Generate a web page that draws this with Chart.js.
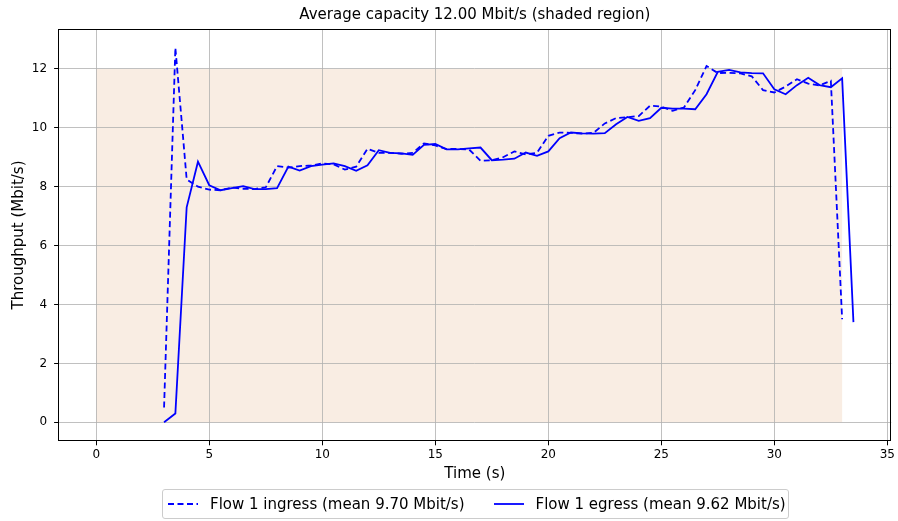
<!DOCTYPE html>
<html>
<head>
<meta charset="utf-8">
<script src="https://cdn.jsdelivr.net/npm/chart.js@4.4.1/dist/chart.umd.min.js"></script>
<style>
  html, body { margin: 0; padding: 0; background: #fff; }
  #wrap { position: relative; width: 898px; height: 521px; }
  #c { position: absolute; left: 0; top: 0; }
  #title {
    position: absolute; top: 5px; height: 18px; line-height: 18px; text-align: center;
    font-family: 'DejaVu Sans', sans-serif; font-size: 15px; color: #000; white-space: nowrap;
  }
  #legend {
    position: absolute; left: 162px; top: 489px; width: 627px; height: 30px;
    box-sizing: border-box; border: 1px solid #cccccc; border-radius: 3px;
    display: flex; align-items: center; padding-left: 5px;
    font-family: 'DejaVu Sans', sans-serif; font-size: 15px; color: #000;
    background: rgba(255,255,255,0.8); white-space: nowrap;
  }
  .item { display: flex; align-items: center; margin-right: 29px; }
  .item:last-child { margin-right: 0; }
  .item svg { margin-right: 12px; }
</style>
</head>
<body>
<div id="wrap">
  <canvas id="c" width="898" height="521"></canvas>
  <div id="title"></div>
  <div id="legend"></div>
</div>
<script>
// Sample times (s), one sample every 0.5 s
const times = [3.0, 3.5, 4.0, 4.5, 5.0, 5.5, 6.0, 6.5, 7.0, 7.5, 8.0, 8.5, 9.0, 9.5,
  10.0, 10.5, 11.0, 11.5, 12.0, 12.5, 13.0, 13.5, 14.0, 14.5, 15.0, 15.5, 16.0, 16.5,
  17.0, 17.5, 18.0, 18.5, 19.0, 19.5, 20.0, 20.5, 21.0, 21.5, 22.0, 22.5, 23.0, 23.5,
  24.0, 24.5, 25.0, 25.5, 26.0, 26.5, 27.0, 27.5, 28.0, 28.5, 29.0, 29.5, 30.0, 30.5,
  31.0, 31.5, 32.0, 32.5, 33.0, 33.5];

// Flow 1 ingress throughput (Mbit/s), 3.0 s .. 33.0 s
const ingress = [0.50, 12.72, 8.25, 8.00, 7.90, 7.88, 7.97, 7.93, 7.92, 7.98,
  8.70, 8.65, 8.70, 8.72, 8.79, 8.76, 8.58, 8.68, 9.29, 9.15,
  9.15, 9.12, 9.15, 9.47, 9.40, 9.28, 9.28, 9.26, 8.88, 8.90,
  9.00, 9.20, 9.10, 9.15, 9.73, 9.84, 9.83, 9.80, 9.83, 10.15,
  10.33, 10.36, 10.40, 10.75, 10.72, 10.58, 10.69, 11.28, 12.10, 11.86,
  11.87, 11.85, 11.75, 11.28, 11.20, 11.40, 11.65, 11.50, 11.44, 11.60,
  3.50];

// Flow 1 egress throughput (Mbit/s), 3.0 s .. 33.5 s
const egress = [0.00, 0.30, 7.30, 8.85, 8.05, 7.88, 7.95, 8.02, 7.92, 7.92,
  7.95, 8.68, 8.55, 8.70, 8.75, 8.79, 8.70, 8.54, 8.73, 9.24,
  9.15, 9.13, 9.08, 9.42, 9.45, 9.27, 9.27, 9.30, 9.33, 8.90,
  8.92, 8.95, 9.16, 9.05, 9.20, 9.65, 9.84, 9.81, 9.80, 9.82,
  10.12, 10.37, 10.24, 10.33, 10.68, 10.65, 10.65, 10.63, 11.14, 11.90,
  11.97, 11.88, 11.86, 11.85, 11.31, 11.14, 11.45, 11.70, 11.45, 11.38,
  11.68, 3.40];

const titleText = 'Average capacity 12.00 Mbit/s (shaded region)';
const seriesLabels = ['Flow 1 ingress (mean 9.70 Mbit/s)', 'Flow 1 egress (mean 9.62 Mbit/s)'];
const xTicks = [0, 5, 10, 15, 20, 25, 30, 35];
const yTicks = [0, 2, 4, 6, 8, 10, 12];

// Capacity band
const capacity = 12;
const shadeStart = 0;
const shadeEnd = 33.0;

// Axis limits
const xMin = -1.675, xMax = 35.175;
const yMin = -0.636, yMax = 13.356;

const FONT = "'DejaVu Sans', sans-serif";
Chart.defaults.font.family = FONT;
Chart.defaults.color = '#000';

const BLUE = '#0000ff';
const DASH = [6, 3.5];

const toPoints = (vals) => vals.map((v, i) => ({ x: times[i], y: v }));

const capacityShade = {
  id: 'capacityShade',
  beforeDraw(chart) {
    const { ctx, scales: { x, y } } = chart;
    const l = x.getPixelForValue(shadeStart), r = x.getPixelForValue(shadeEnd);
    const t = y.getPixelForValue(capacity), b = y.getPixelForValue(0);
    ctx.save();
    ctx.fillStyle = '#f9ede3';
    ctx.fillRect(l, t, r - l, b - t);
    ctx.restore();
  }
};

const axesFrame = {
  id: 'axesFrame',
  afterDraw(chart) {
    const { ctx, chartArea: a } = chart;
    ctx.save();
    ctx.strokeStyle = '#000';
    ctx.lineWidth = 1;
    const l = Math.round(a.left) + 0.5, r = Math.round(a.right) - 0.5;
    const t = Math.round(a.top) + 0.5, b = Math.round(a.bottom) - 0.5;
    ctx.strokeRect(l, t, r - l, b - t);
    ctx.restore();
  }
};

const axisCommon = {
  type: 'linear',
  border: { display: false },
  grid: { color: '#b0b0b0', lineWidth: 0.8, tickColor: '#000', tickWidth: 1, drawTicks: true },
};

const chart = new Chart(document.getElementById('c'), {
  type: 'line',
  data: {
    datasets: [
      { label: seriesLabels[0], data: toPoints(ingress), borderColor: BLUE, backgroundColor: BLUE,
        borderWidth: 1.8, borderDash: DASH, pointRadius: 0, tension: 0, fill: false },
      { label: seriesLabels[1], data: toPoints(egress), borderColor: BLUE, backgroundColor: BLUE,
        borderWidth: 1.8, pointRadius: 0, tension: 0, fill: false }
    ]
  },
  options: {
    responsive: false,
    animation: false,
    devicePixelRatio: 1,
    layout: { padding: { left: 0, right: 6.7, top: 29, bottom: 0 } },
    plugins: {
      legend: { display: false },
      tooltip: { enabled: false },
      title: { display: false }
    },
    scales: {
      x: {
        ...axisCommon,
        min: xMin, max: xMax,
        grid: { ...axisCommon.grid, tickLength: 4.3 },
        afterBuildTicks: (s) => { s.ticks = xTicks.map(v => ({ value: v })); },
        afterFit: (s) => { s.height = 80; },
        ticks: { color: '#000', font: { size: 12 }, padding: 2, maxRotation: 0, autoSkip: false,
                 callback: (v) => String(v) },
        title: { display: true, text: 'Time (s)', color: '#000', font: { size: 15 },
                 padding: { top: 0, bottom: 38 } }
      },
      y: {
        ...axisCommon,
        min: yMin, max: yMax,
        grid: { ...axisCommon.grid, tickLength: 4.3 },
        afterBuildTicks: (s) => { s.ticks = yTicks.map(v => ({ value: v })); },
        afterFit: (s) => { s.width = 58.4; },
        ticks: { color: '#000', font: { size: 12 }, padding: 7, autoSkip: false,
                 callback: (v) => String(v) },
        title: { display: true, text: 'Throughput (Mbit/s)', color: '#000', font: { size: 15 },
                 padding: { top: 10, bottom: 0 } }
      }
    }
  },
  plugins: [capacityShade, axesFrame]
});

// Title centred over the plotting area
const titleEl = document.getElementById('title');
titleEl.textContent = titleText;
titleEl.style.left = chart.chartArea.left + 'px';
titleEl.style.width = (chart.chartArea.right - chart.chartArea.left) + 'px';

// Legend built from the chart's datasets
const legendEl = document.getElementById('legend');
chart.data.datasets.forEach((ds) => {
  const item = document.createElement('div');
  item.className = 'item';
  const dash = ds.borderDash ? ds.borderDash.join(' ') : 'none';
  item.innerHTML =
    '<svg width="30" height="10"><line x1="0" y1="5" x2="30" y2="5" stroke="' + ds.borderColor +
    '" stroke-width="' + ds.borderWidth + '" stroke-dasharray="' + dash + '"/></svg>';
  const span = document.createElement('span');
  span.textContent = ds.label;
  item.appendChild(span);
  legendEl.appendChild(item);
});
</script>
</body>
</html>
